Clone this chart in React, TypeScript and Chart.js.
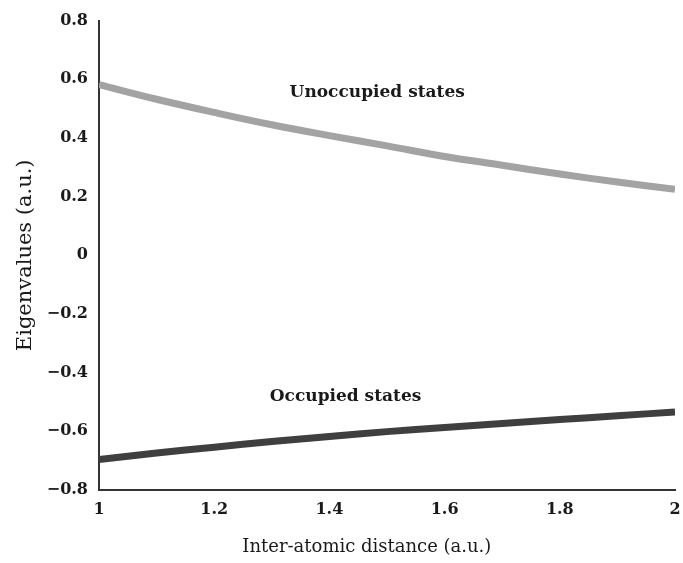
import React, { useEffect, useRef } from "react";
import { Chart, registerables } from "chart.js";

Chart.register(...registerables);

const distances = [1.0, 1.1, 1.2, 1.3, 1.4, 1.5, 1.6, 1.7, 1.8, 1.9, 2.0];
const unoccupied = [0.582, 0.532, 0.487, 0.445, 0.408, 0.373, 0.337, 0.307, 0.277, 0.25, 0.225];
const occupied = [-0.696, -0.674, -0.654, -0.635, -0.618, -0.601, -0.587, -0.573, -0.56, -0.547, -0.534];

const seriesNames = ["Unoccupied states", "Occupied states"];
const labelX = [1.483, 1.428];
const labelY = [0.555, -0.48];

const xTitle = "Inter-atomic distance (a.u.)";
const yTitle = "Eigenvalues (a.u.)";

const FONT = "'DejaVu Serif', serif";

const labelPlugin = {
  id: "stateLabels",
  afterDatasetsDraw(chart: any) {
    const { ctx, scales, chartArea } = chart;
    ctx.save();
    ctx.font = `bold 17px ${FONT}`;
    ctx.fillStyle = "#1a1a1a";
    ctx.textAlign = "center";
    ctx.textBaseline = "middle";
    seriesNames.forEach((name, i) => {
      ctx.fillText(name, scales.x.getPixelForValue(labelX[i]), scales.y.getPixelForValue(labelY[i]));
    });
    // x axis title, centred slightly left of the plot centre as in the reference
    ctx.font = `18px ${FONT}`;
    ctx.fillText(xTitle, chartArea.left + chartArea.width * 0.465, chart.height - 16);
    ctx.restore();
  },
};

export default function App() {
  const ref = useRef<HTMLCanvasElement | null>(null);
  useEffect(() => {
    if (!ref.current) return;
    const chart = new Chart(ref.current, {
      type: "line",
      data: {
        datasets: [
          {
            label: seriesNames[0],
            data: distances.map((x, i) => ({ x, y: unoccupied[i] })),
            borderColor: "#a3a3a3",
            borderWidth: 7,
            pointRadius: 0,
            tension: 0.4,
            borderCapStyle: "butt",
          },
          {
            label: seriesNames[1],
            data: distances.map((x, i) => ({ x, y: occupied[i] })),
            borderColor: "#3f3f3f",
            borderWidth: 7,
            pointRadius: 0,
            tension: 0.4,
            borderCapStyle: "butt",
          },
        ],
      },
      options: {
        animation: false,
        responsive: false,
        layout: { padding: { top: 20, right: 8, left: 0, bottom: 0 } },
        plugins: { legend: { display: false }, tooltip: { enabled: false } },
        scales: {
          x: {
            type: "linear",
            min: 1,
            max: 2,
            afterFit: (s: any) => {
              s.height = 73;
              s.paddingRight = 0;
              s.paddingLeft = 0;
            },
            grid: { display: false, drawTicks: false },
            border: { display: true, color: "#333", width: 2 },
            ticks: {
              stepSize: 0.2,
              padding: 10,
              color: "#1a1a1a",
              font: { family: FONT, size: 16, weight: "bold" },
              callback: (v: any) => {
                const n = Number(v);
                return Math.abs(n - Math.round(n)) < 1e-9 ? String(Math.round(n)) : n.toFixed(1);
              },
            },
            title: { display: false },
          },
          y: {
            min: -0.8,
            max: 0.8,
            afterFit: (s: any) => {
              s.width = 99;
            },
            grid: { display: false, drawTicks: false },
            border: { display: true, color: "#333", width: 2 },
            ticks: {
              stepSize: 0.2,
              padding: 11,
              color: "#1a1a1a",
              font: { family: FONT, size: 16, weight: "bold" },
              callback: (v: any) => {
                const n = Number(v);
                if (Math.abs(n) < 1e-9) return "0";
                return (n < 0 ? "\u2212" : "") + Math.abs(n).toFixed(1);
              },
            },
            title: {
              display: true,
              text: yTitle,
              color: "#1a1a1a",
              font: { family: FONT, size: 21 },
              padding: { top: 13, bottom: 0 },
            },
          },
        },
      },
      plugins: [labelPlugin],
    } as any);
    return () => chart.destroy();
  }, []);
  return (
    <div style={{ position: "absolute", left: 0, top: 0, width: 683, height: 563, background: "#fff" }}>
      <canvas ref={ref} width={683} height={563} style={{ display: "block", width: 683, height: 563 }} />
    </div>
  );
}
